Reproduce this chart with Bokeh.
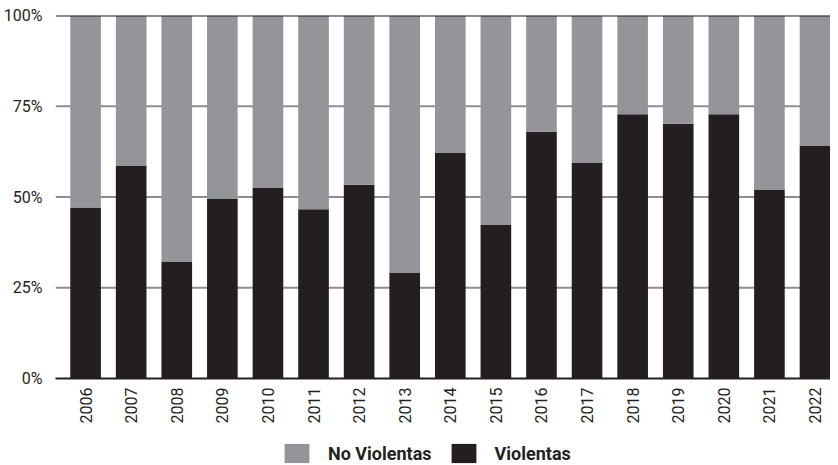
from bokeh.plotting import figure
from bokeh.layouts import column
from bokeh.models import ColumnDataSource, Range1d, FixedTicker, Span, Legend, LegendItem
from bokeh.embed import file_html
from bokeh.resources import INLINE
import math

years = ["2006", "2007", "2008", "2009", "2010", "2011", "2012", "2013", "2014",
         "2015", "2016", "2017", "2018", "2019", "2020", "2021", "2022"]
violentas = [47.1, 58.7, 32.2, 49.6, 52.6, 46.6, 53.4, 29.2, 62.1,
             42.4, 68.0, 59.5, 72.8, 70.2, 72.8, 52.1, 64.2]
no_violentas = [52.9, 41.3, 67.8, 50.4, 47.4, 53.4, 46.6, 70.8, 37.9,
                57.6, 32.0, 40.5, 27.2, 29.8, 27.2, 47.9, 35.8]
y_ticks = [0, 25, 50, 75, 100]
y_tick_labels = ["0%", "25%", "50%", "75%", "100%"]
series_names = ["No Violentas", "Violentas"]

GRAY = "#939598"
BLACK = "#231f20"
FONT = "Roboto"

src = ColumnDataSource(dict(x=list(range(len(years))), v=violentas, nv=no_violentas))

p = figure(width=830, height=441, output_backend="svg", toolbar_location=None,
           x_range=Range1d(-0.66, 16.34), y_range=Range1d(0, 100),
           min_border_left=46, min_border_right=0, min_border_top=15, min_border_bottom=63)
p.outline_line_color = None
p.background_fill_color = "white"
p.border_fill_color = "white"

p.xgrid.visible = False
p.ygrid.visible = False

for t in [25, 50, 75]:
    p.add_layout(Span(location=t, dimension="width", line_color="#8e8e8e",
                      line_width=2, level="underlay"))

rs = p.vbar_stack(["v", "nv"], x="x", width=0.672, color=[BLACK, GRAY],
                  line_color=None, source=src)

p.add_layout(Span(location=100, dimension="width", line_color=BLACK, line_width=2,
                  level="overlay"))

# axes
p.yaxis.ticker = FixedTicker(ticks=y_ticks)
p.yaxis.major_label_overrides = {t: l for t, l in zip(y_ticks, y_tick_labels)}
p.yaxis.axis_line_color = None
p.yaxis.major_tick_line_color = None
p.yaxis.minor_tick_line_color = None
p.yaxis.major_label_text_font = FONT
p.yaxis.major_label_text_font_size = "16px"
p.yaxis.major_label_text_color = BLACK
p.yaxis.major_label_standoff = 7

p.xaxis.ticker = FixedTicker(ticks=list(range(len(years))))
p.xaxis.major_label_overrides = {i: y for i, y in enumerate(years)}
p.xaxis.major_label_orientation = math.pi / 2
p.xaxis.axis_line_color = BLACK
p.xaxis.axis_line_width = 2
p.xaxis.major_tick_line_color = None
p.xaxis.minor_tick_line_color = None
p.xaxis.major_tick_out = 0
p.xaxis.major_tick_in = 0
p.xaxis.major_label_text_font = FONT
p.xaxis.major_label_text_font_size = "16px"
p.xaxis.major_label_text_color = BLACK
p.xaxis.major_label_standoff = 9

# legend strip (its frame is aligned with the main chart's frame by the column layout)
lg = figure(width=830, height=24, output_backend="svg", toolbar_location=None,
            x_axis_location=None, y_axis_location=None,
            x_range=Range1d(100, 101), y_range=Range1d(500, 501),
            min_border_left=46, min_border_right=0, min_border_top=0, min_border_bottom=0)
lg.grid.visible = False
lg.outline_line_color = None
lg.border_fill_color = "white"
lg.background_fill_color = "white"
r_nv = lg.vbar(x="x", top="nv", width=0.672, color=GRAY, line_color=None, source=src)
r_v = lg.vbar(x="x", top="v", width=0.672, color=BLACK, line_color=None, source=src)
legend = Legend(items=[LegendItem(label=series_names[0], renderers=[r_nv]),
                       LegendItem(label=series_names[1], renderers=[r_v])],
                location=(226, 0), orientation="horizontal",
                glyph_width=31, glyph_height=24, label_standoff=16, spacing=16,
                padding=0, margin=0, border_line_color=None,
                background_fill_alpha=0,
                label_text_font=FONT, label_text_font_size="18px",
                label_text_font_style="bold", label_text_color=BLACK,
                label_height=24)
lg.add_layout(legend, "center")

layout = column(p, lg, spacing=0)
open("out.html", "w").write(file_html(layout, INLINE))
